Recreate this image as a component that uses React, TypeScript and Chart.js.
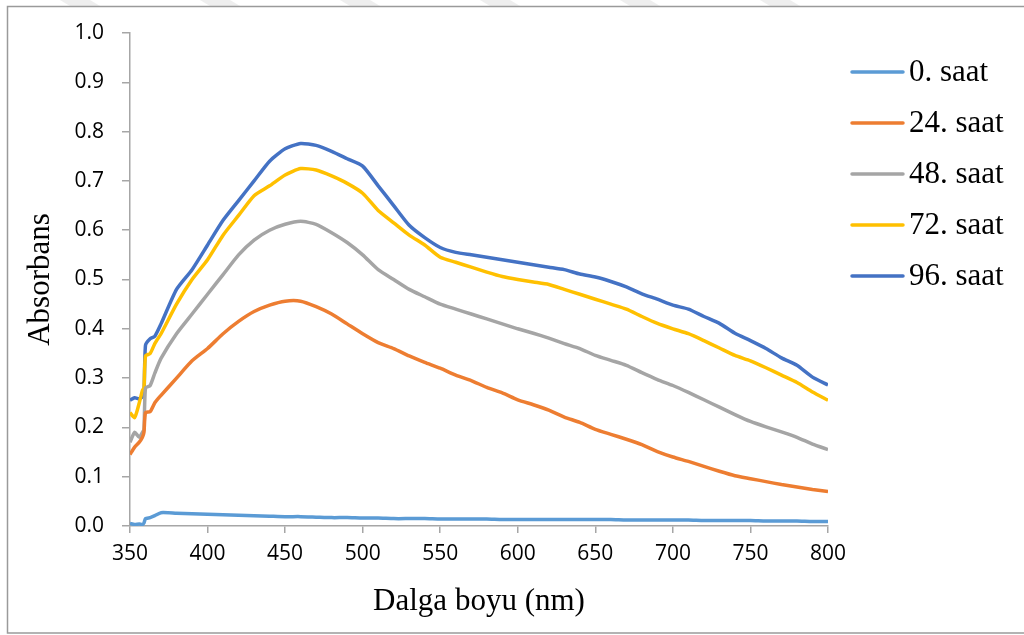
import React, { useEffect, useRef } from "react";
import { Chart, registerables } from "chart.js";

Chart.register(...registerables);

const wavelengths = [350, 353, 356, 358, 359, 360, 363, 366, 370, 380, 390, 400, 410, 420, 430, 440, 450, 460, 470, 480, 490, 500, 510, 520, 530, 540, 550, 560, 570, 580, 590, 600, 610, 620, 630, 640, 650, 660, 670, 680, 690, 700, 710, 720, 730, 740, 750, 760, 770, 780, 790, 800];

const seriesLabels = ["0. saat", "24. saat", "48. saat", "72. saat", "96. saat"];
const seriesColors = ["#5B9BD5", "#ED7D31", "#A5A5A5", "#FFC000", "#4472C4"];

const s0 = [0.005, 0.003, 0.004, 0.003, 0.006, 0.015, 0.017, 0.021, 0.027, 0.026, 0.025, 0.024, 0.023, 0.022, 0.021, 0.020, 0.019, 0.019, 0.018, 0.017, 0.017, 0.016, 0.016, 0.015, 0.015, 0.015, 0.014, 0.014, 0.014, 0.014, 0.013, 0.013, 0.013, 0.013, 0.013, 0.013, 0.013, 0.013, 0.012, 0.012, 0.012, 0.012, 0.012, 0.011, 0.011, 0.011, 0.011, 0.010, 0.010, 0.010, 0.009, 0.009];
const s24 = [0.145, 0.160, 0.170, 0.180, 0.190, 0.230, 0.232, 0.250, 0.265, 0.300, 0.335, 0.360, 0.390, 0.415, 0.435, 0.448, 0.456, 0.456, 0.445, 0.430, 0.410, 0.390, 0.372, 0.360, 0.345, 0.332, 0.320, 0.306, 0.295, 0.281, 0.270, 0.256, 0.246, 0.235, 0.221, 0.210, 0.196, 0.186, 0.176, 0.165, 0.151, 0.140, 0.131, 0.121, 0.111, 0.102, 0.096, 0.090, 0.084, 0.079, 0.074, 0.070];
const s48 = [0.170, 0.190, 0.180, 0.190, 0.195, 0.280, 0.285, 0.310, 0.340, 0.390, 0.430, 0.470, 0.510, 0.550, 0.580, 0.600, 0.612, 0.618, 0.612, 0.595, 0.575, 0.550, 0.520, 0.500, 0.480, 0.465, 0.450, 0.440, 0.430, 0.420, 0.410, 0.400, 0.391, 0.381, 0.370, 0.360, 0.346, 0.336, 0.326, 0.311, 0.297, 0.285, 0.271, 0.256, 0.241, 0.226, 0.212, 0.201, 0.191, 0.180, 0.166, 0.155];
const s72 = [0.230, 0.220, 0.250, 0.275, 0.280, 0.345, 0.350, 0.370, 0.390, 0.450, 0.500, 0.540, 0.590, 0.630, 0.670, 0.690, 0.712, 0.725, 0.722, 0.710, 0.695, 0.675, 0.640, 0.615, 0.590, 0.570, 0.545, 0.535, 0.525, 0.515, 0.506, 0.500, 0.495, 0.490, 0.480, 0.470, 0.460, 0.450, 0.440, 0.425, 0.411, 0.400, 0.390, 0.376, 0.361, 0.346, 0.335, 0.321, 0.306, 0.291, 0.272, 0.255];
const s96 = [0.255, 0.260, 0.258, 0.262, 0.265, 0.367, 0.380, 0.385, 0.410, 0.480, 0.520, 0.570, 0.620, 0.660, 0.700, 0.740, 0.765, 0.776, 0.772, 0.760, 0.745, 0.730, 0.690, 0.650, 0.610, 0.585, 0.565, 0.555, 0.550, 0.545, 0.540, 0.535, 0.530, 0.525, 0.520, 0.511, 0.505, 0.496, 0.485, 0.471, 0.460, 0.448, 0.440, 0.425, 0.411, 0.391, 0.376, 0.360, 0.341, 0.326, 0.302, 0.286];

const seriesValues = [s0, s24, s48, s72, s96];

const xTicks = [350, 400, 450, 500, 550, 600, 650, 700, 750, 800];

const framePlugin = {
  id: "frame",
  beforeDraw(chart: any) {
    const ctx = chart.ctx;
    ctx.save();
    ctx.fillStyle = "#ffffff";
    ctx.fillRect(0, 0, chart.width, chart.height);
    ctx.fillStyle = "#eeeeee";
    const starts = [60, 200, 340, 480, 620, 760];
    for (const sx of starts) {
      ctx.beginPath();
      ctx.moveTo(sx, 0);
      ctx.lineTo(sx + 30, 0);
      ctx.lineTo(sx + 40, 6);
      ctx.lineTo(sx + 10, 6);
      ctx.closePath();
      ctx.fill();
    }
    ctx.strokeStyle = "#9a9a9a";
    ctx.lineWidth = 1.5;
    ctx.strokeRect(7.5, 6.5, 1040, 626.5);
    ctx.restore();
  },
  afterDraw(chart: any) {
    const ctx = chart.ctx;
    ctx.save();
    ctx.font = "31px 'Liberation Serif', 'Times New Roman', serif";
    ctx.textBaseline = "middle";
    ctx.textAlign = "left";
    chart.data.datasets.forEach((ds: any, i: number) => {
      const y = 72 + i * 51;
      ctx.strokeStyle = ds.borderColor;
      ctx.lineWidth = 3.5;
      ctx.lineCap = "round";
      ctx.beginPath();
      ctx.moveTo(852, y);
      ctx.lineTo(903, y);
      ctx.stroke();
      ctx.fillStyle = "#000000";
      ctx.fillText(ds.label, 909, y + 1);
    });
    ctx.restore();
  },
};

export default function App() {
  const ref = useRef<HTMLCanvasElement>(null);
  useEffect(() => {
    if (!ref.current) return;
    const chart = new Chart(ref.current, {
      type: "line",
      data: {
        datasets: seriesValues.map((vals, i) => ({
          label: seriesLabels[i],
          data: wavelengths.map((w, j) => ({ x: w, y: vals[j] })),
          borderColor: seriesColors[i],
          backgroundColor: seriesColors[i],
          borderWidth: 3.5,
          pointRadius: 0,
          tension: 0.2,
          fill: false,
        })),
      },
      options: {
        animation: false,
        responsive: false,
        maintainAspectRatio: false,
        layout: { padding: { left: 0, top: 33, right: 196, bottom: 0 } },
        plugins: { legend: { display: false }, tooltip: { enabled: false } },
        scales: {
          x: {
            type: "linear",
            min: 350,
            max: 800,
            afterFit: (s: any) => { s.height = 109; },
            afterBuildTicks: (s: any) => { s.ticks = xTicks.map((v) => ({ value: v })); },
            grid: { drawOnChartArea: false, drawTicks: true, tickLength: 7, color: "#a6a6a6", lineWidth: 1.5 },
            border: { color: "#a6a6a6", width: 1.5 },
            ticks: { color: "#000000", font: { family: "'Open Sans'", size: 21 }, padding: 8, maxRotation: 0 },
            title: { display: true, text: "Dalga boyu (nm)", color: "#000000", font: { family: "'Liberation Serif'", size: 31 }, padding: { top: 0, bottom: 15 } },
          },
          y: {
            min: 0,
            max: 1,
            afterFit: (s: any) => { s.width = 130; },
            grid: { drawOnChartArea: false, drawTicks: true, tickLength: 8, color: "#a6a6a6", lineWidth: 1.5 },
            border: { color: "#a6a6a6", width: 1.5 },
            ticks: { stepSize: 0.1, color: "#000000", font: { family: "'Open Sans'", size: 21 }, padding: 18, callback: (v: any) => Number(v).toFixed(1) },
            title: { display: true, text: "Absorbans", color: "#000000", font: { family: "'Liberation Serif'", size: 31 }, padding: { top: 22, bottom: 0 } },
          },
        },
      },
      plugins: [framePlugin],
    });
    return () => chart.destroy();
  }, []);
  return (
    <div style={{ position: "fixed", left: 0, top: 0, width: 1024, height: 635, background: "#fff" }}>
      <canvas ref={ref} width={1024} height={635} style={{ width: 1024, height: 635, display: "block" }} />
    </div>
  );
}
